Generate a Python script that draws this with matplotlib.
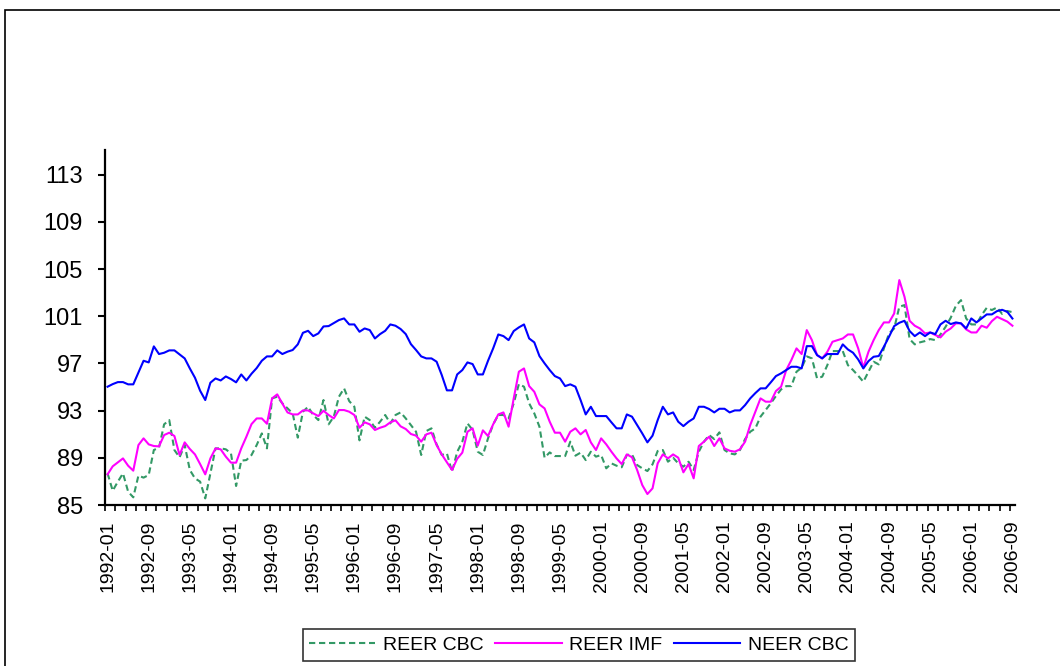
import numpy as np
import pandas as pd
import matplotlib
matplotlib.use('Agg')
import matplotlib.pyplot as plt
from matplotlib.patches import Rectangle

plt.rcParams['font.family'] = ['Liberation Sans', 'DejaVu Sans']

# monthly categories 1992-01 .. 2006-09
months = [p.strftime('%Y-%m') for p in pd.period_range('1992-01', '2006-09', freq='M')]

reer_cbc = [
    87.68, 86.21, 86.98, 87.68, 86.13, 85.65, 87.49, 87.32, 87.54, 89.66,
    89.86, 91.84, 92.20, 89.66, 89.04, 90.08, 87.97, 87.26, 86.98, 85.56,
    87.68, 89.80, 89.80, 89.72, 89.38, 86.61, 88.76, 88.81, 89.24, 90.08,
    91.07, 89.80, 94.04, 94.18, 93.62,
    93.19, 92.77, 90.71, 92.91, 93.33, 92.63, 92.20, 93.90, 91.84, 92.49,
    94.18, 94.89, 93.81, 93.33, 90.48, 92.49, 92.20, 91.55, 92.06, 92.63,
    91.92, 92.63, 92.85, 92.34, 91.78, 91.21, 89.24, 91.27, 91.50, 90.14,
    89.24, 89.38, 87.82, 89.50,
    90.37, 91.92, 91.36, 89.52, 89.24, 90.65, 91.84, 92.63, 92.63, 92.34,
    93.62, 95.25, 95.03, 93.62, 92.77, 91.64, 89.01, 89.46, 89.15, 89.15,
    89.15, 90.37, 89.18, 89.44, 88.81, 89.52, 89.10, 89.24, 88.11, 88.53,
    88.33, 88.20, 89.24, 89.29,
    88.39, 88.11, 87.88, 88.45, 89.58, 89.66, 88.67, 89.01, 88.53, 88.25,
    88.67, 87.97, 89.52, 90.37, 90.93, 90.59, 91.16, 89.66, 89.38, 89.29,
    89.66, 90.59, 91.21, 91.50, 92.49, 93.05, 93.62, 94.24, 94.80, 95.08,
    95.08, 96.30, 96.64, 97.60,
    97.43, 95.73, 95.88, 96.86, 98.05, 98.05, 98.05, 96.86, 96.44, 95.96,
    95.45, 96.30, 97.15, 96.92, 98.28, 99.55, 99.97, 101.81, 101.95, 99.07,
    98.62, 98.79, 98.90, 99.07, 98.98, 99.46, 100.11, 100.88, 101.89, 102.37,
    100.82, 100.31, 100.31, 101.10, 101.72, 101.53, 101.75, 101.20, 101.45, 101.35,
]

reer_imf = [
    87.60, 88.28, 88.62, 88.95, 88.33, 87.91, 90.08, 90.65, 90.14, 90.00,
    89.97, 90.93, 91.13, 90.85, 89.24, 90.31, 89.75, 89.29, 88.47, 87.60,
    88.95, 89.80, 89.72, 89.10, 88.59, 88.59, 89.80, 90.79, 91.86, 92.34,
    92.34, 91.89, 94.04, 94.38, 93.60,
    92.85, 92.68, 92.68, 93.02, 93.02, 92.77, 92.54, 92.99, 92.63, 92.34,
    93.05, 93.05, 92.91, 92.63, 91.55, 92.01, 91.84, 91.36, 91.55, 91.69,
    92.01, 92.18, 91.67, 91.44, 91.02, 90.88, 90.37, 90.99, 91.13, 90.08,
    89.29, 88.62, 87.97, 88.92,
    89.44, 91.21, 91.50, 90.03, 91.33, 90.85, 91.84, 92.68, 92.85, 91.64,
    94.04, 96.30, 96.58, 95.08, 94.60, 93.53, 93.19, 92.06, 91.13, 91.13,
    90.37, 91.21, 91.50, 90.99, 91.36, 90.31, 89.66, 90.65, 90.14, 89.52,
    88.95, 88.47, 89.29, 89.05,
    87.97, 86.69, 85.93, 86.41, 88.53, 89.29, 88.95, 89.29, 89.01, 87.77,
    88.47, 87.26, 90.00, 90.37, 90.79, 90.00, 90.65, 89.80, 89.60, 89.52,
    89.72, 90.37, 91.78, 92.91, 94.04, 93.76, 93.76, 94.66, 95.03, 96.44,
    97.29, 98.28, 97.80, 99.83,
    98.98, 97.71, 97.43, 97.99, 98.84, 98.98, 99.12, 99.46, 99.46, 98.28,
    96.64, 97.99, 98.98, 99.83, 100.48, 100.48, 101.24, 104.07, 102.66, 100.62,
    100.20, 99.97, 99.55, 99.63, 99.41, 99.21, 99.69, 99.97, 100.40, 100.40,
    99.89, 99.63, 99.63, 100.20, 100.03, 100.59, 100.96, 100.76, 100.55, 100.20,
]

neer_cbc = [
    95.03, 95.25, 95.42, 95.42, 95.23, 95.23, 96.24, 97.23, 97.09, 98.45,
    97.80, 97.91, 98.11, 98.11, 97.77, 97.43, 96.58, 95.79, 94.69, 93.90,
    95.37, 95.73, 95.56, 95.90, 95.68, 95.40, 96.07, 95.56, 96.13, 96.61,
    97.23, 97.60, 97.60, 98.11, 97.80,
    98.00, 98.14, 98.62, 99.60, 99.77, 99.32, 99.55, 100.14, 100.17, 100.42,
    100.68, 100.82, 100.31, 100.31, 99.69, 99.97, 99.83, 99.12, 99.49, 99.77,
    100.31, 100.20, 99.92, 99.49, 98.64, 98.14, 97.60, 97.43, 97.43, 97.15,
    96.02, 94.72, 94.72, 96.07,
    96.44, 97.09, 96.95, 96.07, 96.07, 97.23, 98.28, 99.46, 99.32, 98.98,
    99.75, 100.06, 100.31, 99.12, 98.79, 97.63, 97.01, 96.44, 95.93, 95.73,
    95.08, 95.23, 95.03, 93.90, 92.68, 93.33, 92.54, 92.54, 92.54, 92.01,
    91.50, 91.50, 92.68, 92.49,
    91.78, 91.07, 90.31, 90.88, 92.20, 93.33, 92.68, 92.85, 92.06, 91.69,
    92.06, 92.34, 93.33, 93.33, 93.14, 92.85, 93.16, 93.16, 92.85, 93.02,
    93.02, 93.47, 94.04, 94.49, 94.89, 94.89, 95.40, 95.93, 96.16, 96.44,
    96.72, 96.72, 96.58, 98.47,
    98.47, 97.71, 97.43, 97.80, 97.80, 97.80, 98.62, 98.19, 97.91, 97.34,
    96.58, 97.20, 97.57, 97.63, 98.42, 99.27, 100.17, 100.45, 100.62, 99.75,
    99.32, 99.63, 99.32, 99.63, 99.49, 100.31, 100.62, 100.34, 100.48, 100.40,
    99.97, 100.82, 100.48, 100.82, 101.16, 101.16, 101.44, 101.55, 101.38, 100.81,
]

y_ticks = [85, 89, 93, 97, 101, 105, 109, 113]

fig = plt.figure(figsize=(10.6, 6.66), dpi=100)
ax = fig.add_axes([105 / 1060, 1 - 505 / 666, (1015 - 105) / 1060, (505 - 150) / 666])

x = np.arange(len(months))
ax.plot(x, reer_cbc, color='#339966', lw=1.5, ls=(0, (3, 1.8)), label='REER CBC')
ax.plot(x, reer_imf, color='#FF00FF', lw=1.5, label='REER IMF')
ax.plot(x, neer_cbc, color='#0000FF', lw=1.5, label='NEER CBC')

ax.set_xlim(-0.5, len(months) - 0.5)
ax.set_ylim(85, 115.1)
ax.set_yticks(y_ticks)
ax.tick_params(axis='y', labelsize=17, length=5, width=1.5, pad=11, direction='out')

# labels every 8 months, tick marks every 2 months
lab_pos = x[::8]
ax.set_xticks(lab_pos)
ax.set_xticklabels([months[i] for i in lab_pos], rotation=90, fontsize=14)
ax.tick_params(axis='x', length=0, pad=11)
ax.set_xticks(np.arange(-0.5, len(months), 2), minor=True)
ax.tick_params(axis='x', which='minor', length=4, width=1.2, direction='out')

for s in ['top', 'right']:
    ax.spines[s].set_visible(False)
for s in ['left', 'bottom']:
    ax.spines[s].set_linewidth(1.6)

leg = fig.legend(loc='center', bbox_to_anchor=(579 / 1060, 1 - 645 / 666), ncol=3,
                 fontsize=14, frameon=True, fancybox=False, handlelength=3.4,
                 columnspacing=0.6, handletextpad=0.4, borderpad=0.35)
leg.get_frame().set_edgecolor('black')
leg.get_frame().set_linewidth(1.2)

# chart area border
fig.patches.append(Rectangle((5 / 1060, -0.1), 1.2, 1.1 - 10 / 666, transform=fig.transFigure,
                             fill=False, edgecolor='black', lw=1.2))

fig.savefig('out.png', dpi=100)
